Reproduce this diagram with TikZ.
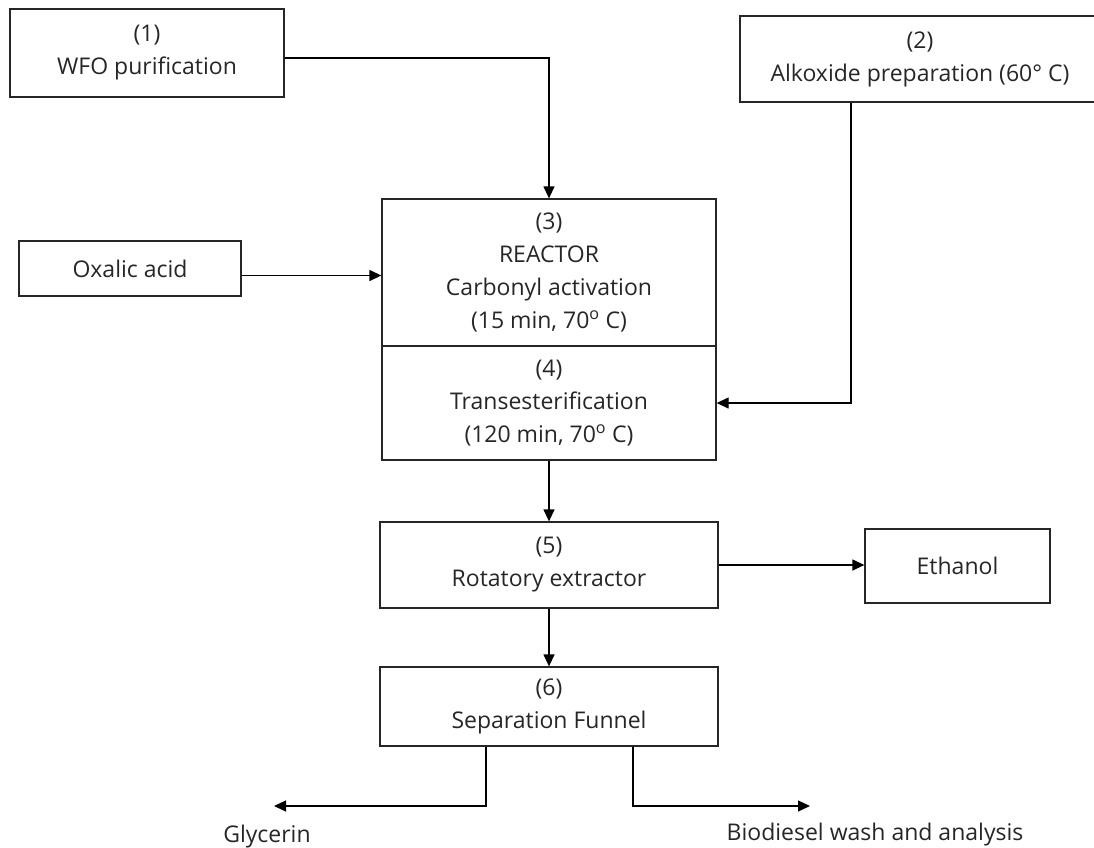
\documentclass[tikz,border=0pt]{standalone}
\usepackage{fontspec}
\setmainfont{Open Sans}
\usetikzlibrary{arrows.meta}

\begin{document}
\begin{tikzpicture}[x=1pt,y=-1pt,>={Triangle[length=12pt,width=11pt]},line width=1.3pt,
  box/.style={draw=black!85,rectangle,inner sep=0pt,align=center,
    font=\fontsize{23}{33}\selectfont,text=black!85},
  lbl/.style={font=\fontsize{23}{33}\selectfont,text=black!85}]

\clip (0,0) rectangle (1094,847);

\node (wfo) at (147,53) [box,minimum width=274,minimum height=88] {(1)\\WFO purification};
\node (alk) at (920,59) [box,minimum width=360,minimum height=86] {(2)\\Alkoxide preparation (60° C)};
\node (oxa) at (130,268.5) [box,minimum width=222,minimum height=55] {Oxalic acid};

\node (act) at (549,272.5) [box,minimum width=334,minimum height=147]
  {(3)\\REACTOR\\Carbonyl activation\\(15 min, 70\textsuperscript{o} C)};
\node (trans) at (549,403) [box,minimum width=334,minimum height=114]
  {(4)\\Transesterification\\(120 min, 70\textsuperscript{o} C)};

\node (rot) at (549,565) [box,minimum width=338,minimum height=86] {(5)\\Rotatory extractor};
\node (eth) at (957.5,566) [box,minimum width=185,minimum height=74] {Ethanol};
\node (sep) at (549,706.5) [box,minimum width=338,minimum height=79] {(6)\\Separation Funnel};

\node (gly) at (267,837) [lbl] {Glycerin};
\node (bio) at (875,835) [lbl] {Biodiesel wash and analysis};

\coordinate (k) at (851,407);
\coordinate (gtip) at (274,806);
\coordinate (btip) at (810,806);

% feeds into the reactor
\draw[->] ([yshift=-5pt]wfo.east) -| (act.north);
\draw[->] ([yshift=-7pt]oxa.east) -- ([yshift=-7pt]oxa.east -| act.west);
\draw[->] (alk.south -| k) |- (trans.east);

% downstream
\draw[->] (trans.south) -- (rot.north);
\draw[->] (rot.east) -- (rot.east -| eth.west);
\draw[->] (rot.south) -- (sep.north);
\draw[->] ([xshift=-63pt]sep.south) |- (gtip);
\draw[->] ([xshift=84pt]sep.south) |- (btip);

\end{tikzpicture}
\end{document}
